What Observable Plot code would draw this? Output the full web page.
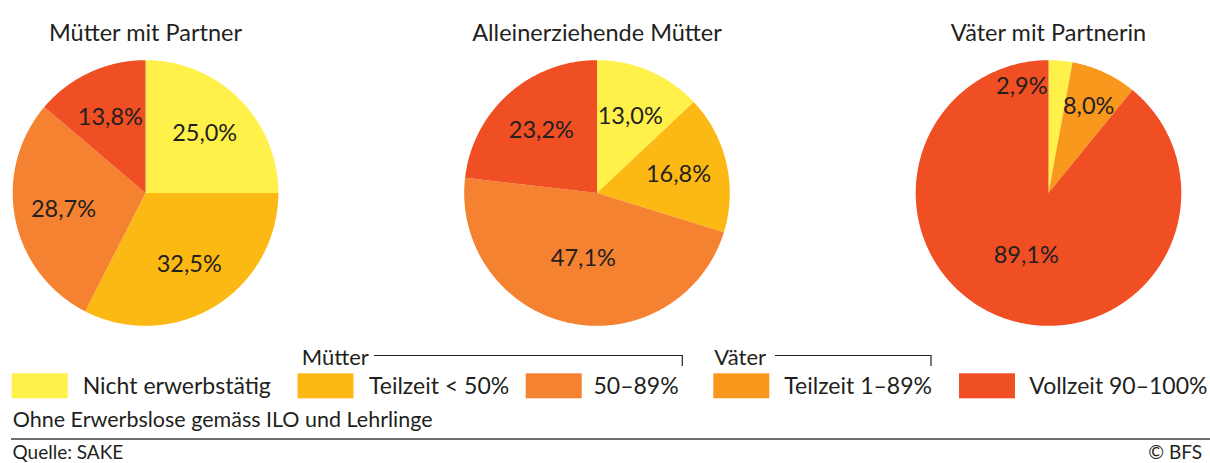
<!DOCTYPE html>
<html><head><meta charset="utf-8">
<script src="https://cdn.jsdelivr.net/npm/d3@7"></script>
<script src="https://cdn.jsdelivr.net/npm/@observablehq/plot@0.6"></script>
<style>
body{margin:0;background:#fff;font-family:Lato,sans-serif;}
#wrap{position:relative;width:1210px;height:463px;overflow:hidden;background:#fff;}
#chart{position:absolute;left:0;top:0;}
#legend{position:absolute;left:0;top:0;}
</style></head><body><div id="wrap"><div id="chart"></div><svg id="legend" width="1210" height="463"></svg></div>
<script>
// ---- data ----
const groups = ["Mütter mit Partner", "Alleinerziehende Mütter", "Väter mit Partnerin"];
const categories = ["Nicht erwerbstätig", "Teilzeit < 50%", "50–89%", "Teilzeit 1–89%", "Vollzeit 90–100%"];
const colors = ["#fff04a", "#fdb913", "#f58230", "#f8981d", "#f04e23"];
const muetterMitPartner = [25.0, 32.5, 28.7, null, 13.8];
const alleinerziehendeMuetter = [13.0, 16.8, 47.1, null, 23.2];
const vaeterMitPartnerin = [2.9, null, null, 8.0, 89.1];
const series = [muetterMitPartner, alleinerziehendeMuetter, vaeterMitPartnerin];
const legendGroups = [{label: "Mütter", from: 1, to: 2}, {label: "Väter", from: 3, to: 3}];
const note = "Ohne Erwerbslose gemäss ILO und Lehrlinge";
const source = "Quelle: SAKE";
const copyright = "© BFS";

// ---- derived tables ----
const fmt = v => d3.format(".1f")(v).replace(".", ",") + "%";
const slices = [], labels = [];
series.forEach((vals, gi) => {
  const group = groups[gi];
  const total = d3.sum(vals);
  let acc = 0;
  vals.forEach((v, ci) => {
    if (v == null) return;
    const category = categories[ci];
    const a0 = acc / total * 2 * Math.PI, a1 = (acc + v) / total * 2 * Math.PI;
    acc += v;
    const key = group + "|" + category;
    const n = Math.max(2, Math.ceil((a1 - a0) / (Math.PI / 360)));
    slices.push({group, category, key, x: 0, y: 0});
    for (let k = 0; k <= n; k++) {
      const a = a0 + (a1 - a0) * k / n;
      slices.push({group, category, key, x: Math.sin(a), y: Math.cos(a)});
    }
    const small = v < 5;
    const am = small ? a0 : (a0 + a1) / 2;
    const rr = small ? 0.8 : v > 40 ? 0.5 : v < 10 ? 0.72 : 0.63;
    labels.push({group, small, x: rr * Math.sin(am), y: rr * Math.cos(am), text: fmt(v)});
  });
});

const ink = "#231f20";
const chart = Plot.plot({
  width: 1210,
  height: 328,
  marginTop: 57,
  marginBottom: 0,
  marginLeft: 9.55,
  marginRight: 26.55,
  style: {fontFamily: "Lato, sans-serif", background: "transparent"},
  fx: {domain: groups, paddingInner: 0.4, paddingOuter: 0, round: false, label: null},
  x: {domain: [-1.02, 1.02], axis: null},
  y: {domain: [-1.02, 1.02], axis: null},
  color: {domain: categories, range: colors},
  marks: [
    Plot.line(slices, {fx: "group", x: "x", y: "y", z: "key", fill: "category", stroke: "none", curve: "linear"}),
    Plot.text(labels.filter(d => !d.small), {fx: "group", x: "x", y: "y", text: "text", fontSize: 23.5, fill: ink}),
    Plot.text(labels.filter(d => d.small), {fx: "group", x: "x", y: "y", text: "text", fontSize: 23.5, fill: ink, textAnchor: "end", dx: -1}),
    Plot.axisFx({anchor: "top", tickSize: 0, tickPadding: 17, fontSize: 23.5, color: ink, label: null})
  ]
});
document.getElementById("chart").appendChild(chart);

// ---- legend & footer ----
const svg = d3.select("#legend").style("font-family", "Lato, sans-serif");
const swX = [11.7, 297.5, 525.7, 713.3, 959];
const txX = [82.7, 369, 593.5, 784.3, 1029.3];
categories.forEach((c, i) => {
  svg.append("rect").attr("x", swX[i]).attr("y", 373.3).attr("width", 56).attr("height", 25).attr("fill", colors[i]);
  svg.append("text").attr("x", txX[i]).attr("y", 393.5).attr("font-size", 23).attr("fill", ink).text(c);
});
const brX = [[301.7, 374, 682.3], [714.3, 775, 931]];
legendGroups.forEach((g, i) => {
  const [tx, l0, l1] = brX[i];
  svg.append("text").attr("x", tx).attr("y", 365).attr("font-size", 22).attr("fill", ink).text(g.label);
  svg.append("path").attr("d", `M${l0},355.5H${l1}V366`).attr("fill", "none").attr("stroke", ink).attr("stroke-width", 1.2);
});
svg.append("text").attr("x", 12.7).attr("y", 427.3).attr("font-size", 21.5).attr("fill", ink).text(note);
svg.append("rect").attr("x", 11).attr("y", 438).attr("width", 1199).attr("height", 2).attr("fill", "#6d6e71");
svg.append("text").attr("x", 12.5).attr("y", 458.5).attr("font-size", 19).attr("fill", ink).text(source);
svg.append("text").attr("x", 1202).attr("y", 458.5).attr("font-size", 19).attr("fill", ink).attr("text-anchor", "end").text(copyright);
</script></body></html>
